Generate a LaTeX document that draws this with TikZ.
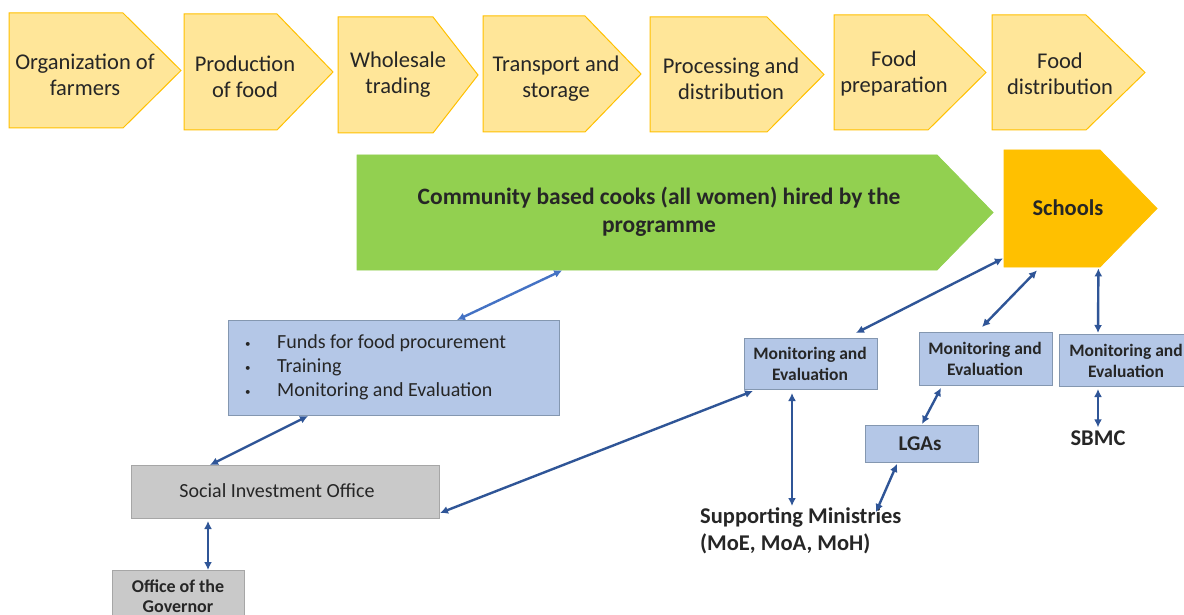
\documentclass[tikz,border=0pt]{standalone}
\usepackage{fontspec}
\setmainfont{Carlito}
\usetikzlibrary{arrows.meta,calc}
\definecolor{chevY}{HTML}{FFE699}
\definecolor{chevYb}{HTML}{FFC000}
\definecolor{greenF}{HTML}{92D050}
\definecolor{schoolF}{HTML}{FFC000}
\definecolor{blueF}{HTML}{B4C7E7}
\definecolor{blueB}{HTML}{8497B0}
\definecolor{grayF}{HTML}{C9C9C9}
\definecolor{grayB}{HTML}{A6A6A6}
\definecolor{arrD}{HTML}{2F5597}
\definecolor{arrL}{HTML}{4472C4}
\definecolor{txt}{HTML}{262626}
\newcommand\mychev[7]{% name, left, shoulder, tip, top, bottom, style
  \path[#7] (#2,#5) -- (#3,#5) -- (#4,{(#5+#6)/2}) -- (#3,#6) -- (#2,#6) -- cycle;
  \node[inner sep=0pt, minimum width={(#3-#2)*1pt}, minimum height={(#6-#5)*1pt}, anchor=north west] (#1) at (#2,#5) {};
}
\newcommand\mybul{\makebox[32pt][l]{\raisebox{1pt}{\fontsize{11}{11}\selectfont •}}}
\begin{document}
\begin{tikzpicture}[x=1pt,y=-1pt,
  yelchev/.style={fill=chevY, draw=chevYb, line width=1pt},
  greenchev/.style={fill=greenF, draw=greenF, line width=0.8pt},
  schoolchev/.style={fill=schoolF, draw=schoolF, line width=0.8pt},
  chevtext/.style={align=center, text=txt, font=\fontsize{22.5}{26}\selectfont, inner sep=0pt},
  bluebox/.style={fill=blueF, draw=blueB, line width=1pt, inner sep=0pt, anchor=north west},
  graybox/.style={fill=grayF, draw=grayB, line width=1pt, inner sep=0pt, anchor=north west},
  metext/.style={align=center, font=\bfseries\fontsize{17.5}{21}\selectfont, text=txt, inner sep=0pt},
  biarrow/.style={{Latex[length=8pt,width=8pt]}-{Latex[length=8pt,width=8pt]}, line width=2.4pt, draw=arrD},
  biarrowL/.style={biarrow, draw=arrL}
]
\useasboundingbox (0,0) rectangle (1184,615);
\fill[white] (0,0) rectangle (1184,615);

% top chain
\mychev{c1}{9}{123}{181}{13}{128}{yelchev}
\mychev{c2}{184}{277}{333}{14}{130}{yelchev}
\mychev{c3}{338}{433}{478}{17}{133}{yelchev}
\mychev{c4}{483}{585}{641}{16}{132}{yelchev}
\mychev{c5}{650}{767}{824}{17}{132}{yelchev}
\mychev{c6}{834}{928}{986}{15}{130}{yelchev}
\mychev{c7}{992}{1086}{1145}{15}{130}{yelchev}
\node[chevtext] (t1) at (85,75) {Organization of\\farmers};
\node[chevtext] (t2) at (245,77) {Production\\of food};
\node[chevtext] (t3) at (398,75) {Wholesale\\trading};
\node[chevtext] (t4) at (556,79) {Transport and\\storage};
\node[chevtext] (t5) at (731,79) {Processing and\\distribution};
\node[chevtext] (t6) at (894,74) {Food\\preparation};
\node[chevtext] (t7) at (1060,74) {Food\\distribution};

% green and schools
\mychev{green}{357}{937}{993}{155}{270}{greenchev}
\node[align=center, font=\bfseries\fontsize{23.5}{28}\selectfont, text=txt, inner sep=0pt] (greentext) at (659,212) {Community based cooks (all women) hired by the\\programme};
\mychev{schools}{1004}{1100}{1157}{150}{267}{schoolchev}
\node[font=\bfseries\fontsize{22.5}{26}\selectfont, text=txt, inner sep=0pt] (schooltext) at (1068,208) {Schools};

% boxes
\node[bluebox, minimum width=331pt, minimum height=95pt] (funds) at (228,320) {};
\node[anchor=west, align=left, font=\fontsize{20}{24}\selectfont, text=txt, inner sep=0pt] (fundstext) at (245,367)
  {\mybul Funds for food procurement\\\mybul Training\\\mybul Monitoring and Evaluation};
\node[graybox, minimum width=308pt, minimum height=53pt] (sio) at (131,465) {};
\node[font=\fontsize{20}{24}\selectfont, text=txt, inner sep=0pt] (siotext) at (277,491) {Social Investment Office};
\node[graybox, minimum width=132pt, minimum height=60pt] (gov) at (112,570) {};
\node[align=center, font=\bfseries\fontsize{18}{20}\selectfont, text=txt, inner sep=0pt] (govtext) at (178,596) {Office of the\\Governor};

\node[bluebox, minimum width=133pt, minimum height=51pt] (me1) at (744,338) {};
\node[metext] (me1text) at (810,364) {Monitoring and\\Evaluation};
\node[bluebox, minimum width=133pt, minimum height=53pt] (me2) at (919,332) {};
\node[metext] (me2text) at (985,359) {Monitoring and\\Evaluation};
\node[bluebox, minimum width=135pt, minimum height=52pt] (me3) at (1059,334) {};
\node[metext] (me3text) at (1126,361) {Monitoring and\\Evaluation};
\node[bluebox, minimum width=113pt, minimum height=37pt] (lgas) at (865,425) {};
\node[font=\bfseries\fontsize{21}{25}\selectfont, text=txt, inner sep=0pt] (lgastext) at (920,444) {LGAs};
\node[font=\bfseries\fontsize{22.5}{26}\selectfont, text=txt, inner sep=0pt] (sbmc) at (1098,438) {SBMC};
\node[anchor=north west, align=left, font=\bfseries\fontsize{22.5}{27}\selectfont, text=txt, inner sep=0pt] (min) at (700,507) {Supporting Ministries\\(MoE, MoA, MoH)};

% connectors
\draw[biarrowL] ([xshift=63pt]funds.north) -- ([xshift=-85pt]green.south);
\draw[biarrow] ([xshift=80pt]funds.south west) -- ([xshift=79pt]sio.north west);
\draw[biarrow] ([xshift=77pt,yshift=-2pt]sio.south west) -- ([xshift=96pt]gov.north west);
\draw[biarrow] ([yshift=6pt]sio.south east) -- ([xshift=9pt,yshift=-1pt]me1.south west);
\draw[biarrow] ([xshift=-22pt,yshift=5pt]me1.north east) -- ([xshift=-1pt,yshift=9pt]schools.south west);
\draw[biarrow] ([xshift=63pt,yshift=5pt]me2.north west) -- ([xshift=33pt,yshift=-3pt]schools.south west);
\draw[biarrow] ([xshift=-2pt,yshift=-1pt]schools.south east) -- ([xshift=39pt,yshift=1pt]me3.north west);
\draw[biarrow] ([xshift=48pt,yshift=-3pt]me1.south west) -- ([xshift=92pt,yshift=1pt]min.north west);
\draw[biarrow] ([xshift=22pt,yshift=-2pt]me2.south west) -- ([xshift=57pt,yshift=1pt]lgas.north west);
\draw[biarrow] ([xshift=32pt,yshift=-1pt]lgas.south west) -- ([xshift=176pt,yshift=-5pt]min.north west);
\draw[biarrow] ([xshift=39pt,yshift=-2pt]me3.south west) -- ([yshift=3pt]sbmc.north);
\end{tikzpicture}
\end{document}
